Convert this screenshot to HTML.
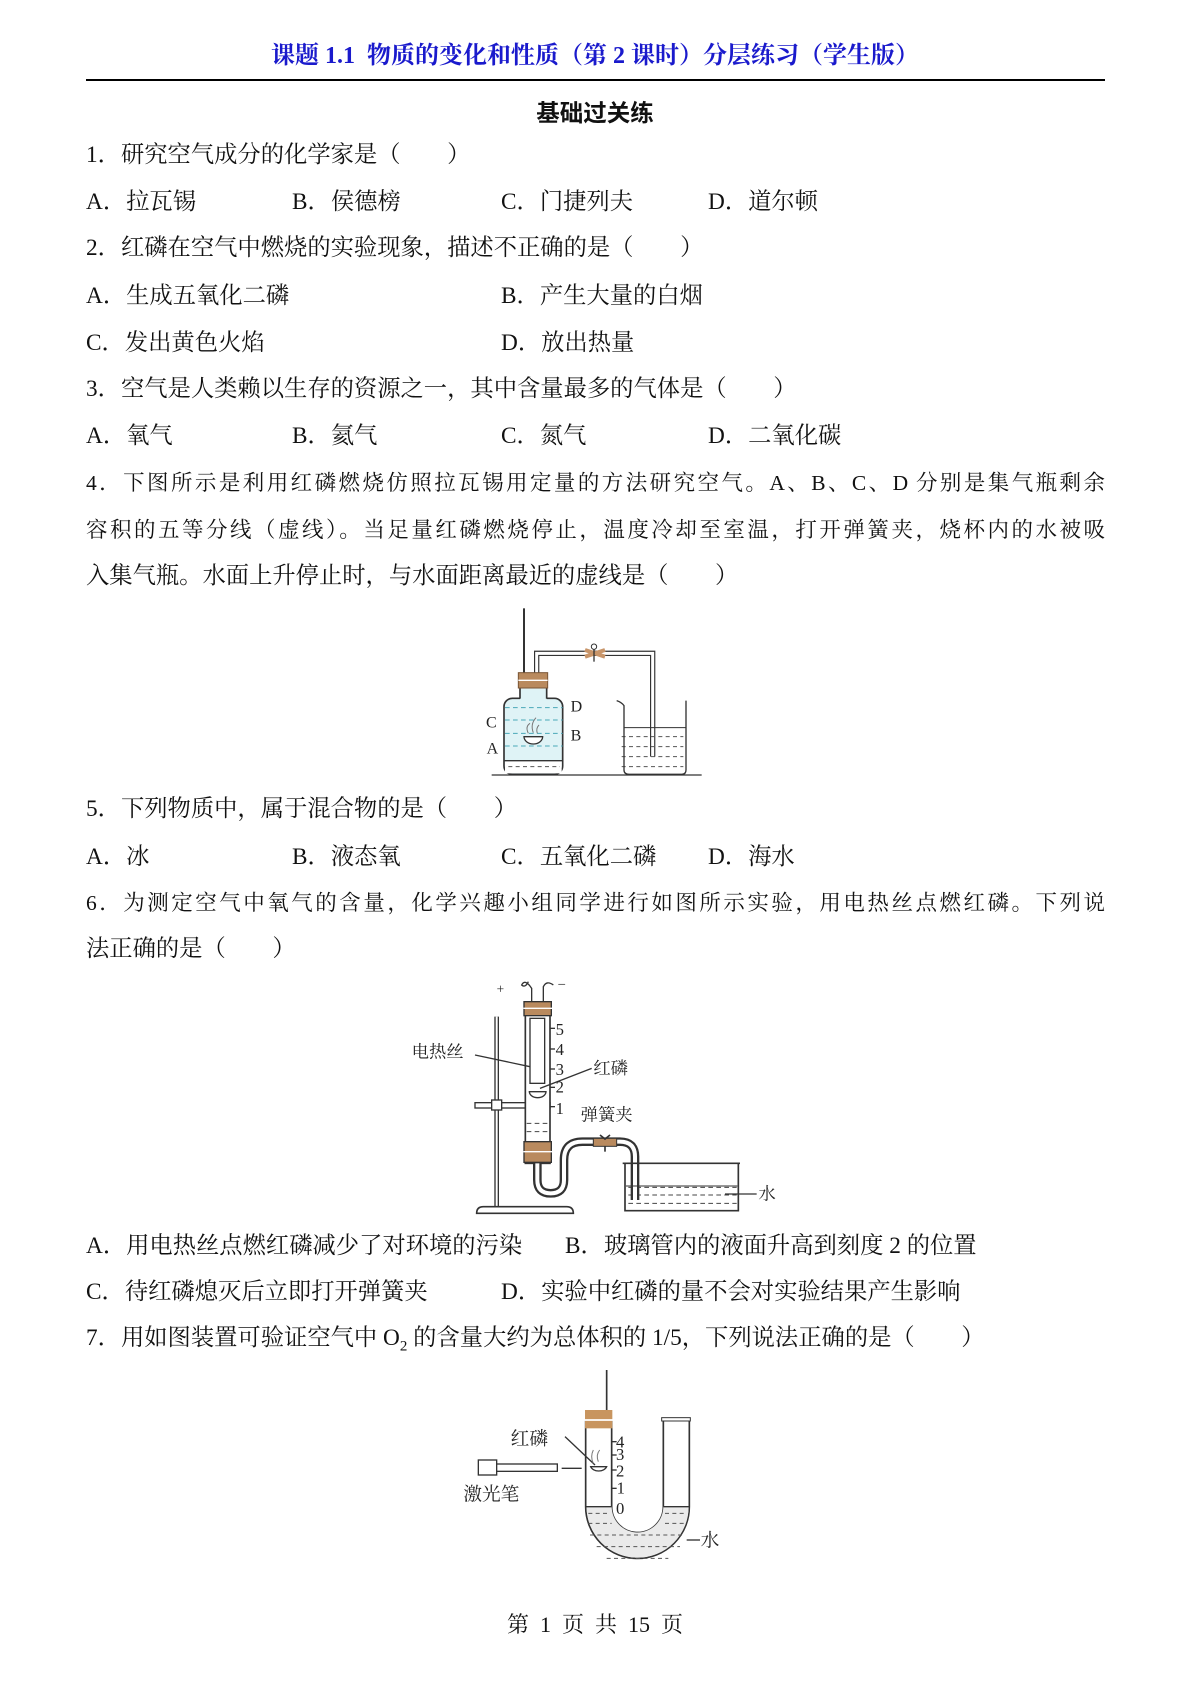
<!DOCTYPE html>
<html><head><meta charset="utf-8"><style>
body{margin:0;width:1190px;height:1682px;background:#fff;position:relative;font-family:"Liberation Serif","Noto Serif CJK SC",serif;color:#111;}
.t{position:absolute;left:86px;font-size:23.3px;line-height:26px;white-space:nowrap;}
.j{width:1019px;text-align:justify;text-align-last:justify;font-size:21.5px;}
.o{position:absolute;font-size:23.3px;line-height:26px;white-space:nowrap;}
svg{position:absolute;}
svg text{font-family:"Liberation Serif","Noto Serif CJK SC",serif;fill:#222;}
</style></head><body>
<div style="position:absolute;top:35px;left:0;width:1190px;text-align:center;font-family:'Liberation Serif','Noto Serif CJK SC',serif;font-weight:bold;color:#1a1acc;font-size:24px;">课题 1.1&nbsp; 物质的变化和性质（第 2 课时）分层练习（学生版）</div>
<div style="position:absolute;top:79px;left:86px;width:1019px;height:1.5px;background:#000;"></div>
<div style="position:absolute;top:94px;left:0;width:1190px;text-align:center;font-weight:bold;font-size:23.5px;font-family:'Liberation Sans','Noto Sans CJK SC',sans-serif;">基础过关练</div>

<div class="t" style="top:142px">1．研究空气成分的化学家是（　　）</div>
<div class="o" style="top:189px;left:86px">A．拉瓦锡</div><div class="o" style="top:189px;left:292px">B．侯德榜</div><div class="o" style="top:189px;left:501px">C．门捷列夫</div><div class="o" style="top:189px;left:708px">D．道尔顿</div>
<div class="t" style="top:235px">2．红磷在空气中燃烧的实验现象，描述不正确的是（　　）</div>
<div class="o" style="top:283px;left:86px">A．生成五氧化二磷</div><div class="o" style="top:283px;left:501px">B．产生大量的白烟</div>
<div class="o" style="top:330px;left:86px">C．发出黄色火焰</div><div class="o" style="top:330px;left:501px">D．放出热量</div>
<div class="t" style="top:376px">3．空气是人类赖以生存的资源之一，其中含量最多的气体是（　　）</div>
<div class="o" style="top:423px;left:86px">A．氧气</div><div class="o" style="top:423px;left:292px">B．氦气</div><div class="o" style="top:423px;left:501px">C．氮气</div><div class="o" style="top:423px;left:708px">D．二氧化碳</div>
<div class="t j" style="top:470px">4．下图所示是利用红磷燃烧仿照拉瓦锡用定量的方法研究空气。A、B、C、D 分别是集气瓶剩余</div>
<div class="t j" style="top:517px">容积的五等分线（虚线）。当足量红磷燃烧停止，温度冷却至室温，打开弹簧夹，烧杯内的水被吸</div>
<div class="t" style="top:563px">入集气瓶。水面上升停止时，与水面距离最近的虚线是（　　）</div>

<svg style="left:400px;top:600px" width="350" height="190" viewBox="0 0 1050 570">
<line x1="372" y1="25" x2="372" y2="380" stroke="#333" stroke-width="6"/>
<path d="M410 230 V160 H758 V470" fill="none" stroke="#333" stroke-width="16"/>
<path d="M410 230 V160 H758 V470" fill="none" stroke="#fff" stroke-width="9"/>
<path d="M555 150 L615 170 M555 170 L615 150" stroke="#c8956a" stroke-width="12"/>
<circle cx="582" cy="140" r="8" fill="none" stroke="#333" stroke-width="3"/>
<line x1="582" y1="148" x2="582" y2="185" stroke="#333" stroke-width="4"/>
<rect x="312" y="295" width="176" height="228" rx="25" fill="#dff3f6" stroke="#333" stroke-width="5"/>
<rect x="360" y="262" width="80" height="40" fill="#dff3f6"/>
<line x1="360" y1="262" x2="360" y2="296" stroke="#333" stroke-width="5"/><line x1="440" y1="262" x2="440" y2="296" stroke="#333" stroke-width="5"/>
<rect x="315" y="482" width="170" height="38" fill="#fff"/>
<line x1="312" y1="482" x2="488" y2="482" stroke="#333" stroke-width="4"/>
<g stroke="#555" stroke-width="3" stroke-dasharray="12 10"><line x1="325" y1="500" x2="480" y2="500"/><line x1="665" y1="410" x2="850" y2="410"/><line x1="665" y1="440" x2="850" y2="440"/><line x1="665" y1="470" x2="850" y2="470"/><line x1="665" y1="500" x2="850" y2="500"/></g>
<g stroke="#4aa8b8" stroke-width="3" stroke-dasharray="14 10"><line x1="315" y1="323" x2="488" y2="323"/><line x1="315" y1="360" x2="488" y2="360"/><line x1="315" y1="400" x2="488" y2="400"/><line x1="315" y1="438" x2="488" y2="438"/></g>
<rect x="355" y="218" width="88" height="46" fill="#b98a5e" stroke="#7a5535" stroke-width="3"/>
<line x1="355" y1="241" x2="443" y2="241" stroke="#fff" stroke-width="4"/>
<path d="M372 410 A28 22 0 0 0 428 410 Z" fill="#fff" stroke="#333" stroke-width="4"/>
<path d="M385 400 q-10 -20 5 -30 M400 398 q-10 -25 8 -45 M412 400 q-5 -15 5 -25" stroke="#777" stroke-width="3" fill="none"/>
<text x="512" y="335" font-size="48">D</text><text x="258" y="382" font-size="48">C</text><text x="512" y="422" font-size="48">B</text><text x="260" y="460" font-size="48">A</text>
<path d="M650 302 q15 5 22 15 V510 q0 13 15 13 H845 q13 0 13 -13 V302" fill="none" stroke="#333" stroke-width="4"/>
<line x1="672" y1="383" x2="858" y2="383" stroke="#333" stroke-width="3"/>
<line x1="275" y1="525" x2="905" y2="525" stroke="#333" stroke-width="4"/>
</svg>

<div class="t" style="top:796px">5．下列物质中，属于混合物的是（　　）</div>
<div class="o" style="top:844px;left:86px">A．冰</div><div class="o" style="top:844px;left:292px">B．液态氧</div><div class="o" style="top:844px;left:501px">C．五氧化二磷</div><div class="o" style="top:844px;left:708px">D．海水</div>
<div class="t j" style="top:890px">6．为测定空气中氧气的含量，化学兴趣小组同学进行如图所示实验，用电热丝点燃红磷。下列说</div>
<div class="t" style="top:936px">法正确的是（　　）</div>

<svg style="left:380px;top:970px" width="450" height="260" viewBox="0 0 1350 780">
<line x1="350" y1="140" x2="350" y2="710" stroke="#333" stroke-width="14"/><line x1="350" y1="140" x2="350" y2="710" stroke="#fff" stroke-width="6"/>
<path d="M290 730 q0 -20 20 -20 H560 q20 0 20 20 Z" fill="#fff" stroke="#333" stroke-width="5"/>
<rect x="285" y="398" width="225" height="16" fill="#fff" stroke="#333" stroke-width="4"/>
<rect x="335" y="390" width="30" height="30" fill="#fff" stroke="#333" stroke-width="4"/>
<rect x="436" y="110" width="74" height="470" fill="#fff" stroke="#333" stroke-width="5"/>
<rect x="450" y="145" width="44" height="195" fill="#fff" stroke="#333" stroke-width="4"/>
<rect x="440" y="458" width="66" height="60" fill="#fff"/>
<g stroke="#444" stroke-width="3" stroke-dasharray="14 10"><line x1="440" y1="460" x2="505" y2="460"/><line x1="440" y1="485" x2="505" y2="485"/><line x1="745" y1="652" x2="1070" y2="652"/><line x1="745" y1="675" x2="1070" y2="675"/><line x1="745" y1="700" x2="1070" y2="700"/></g>
<rect x="432" y="95" width="82" height="42" fill="#b98a5e" stroke="#333" stroke-width="4"/><line x1="430" y1="115" x2="516" y2="115" stroke="#fff" stroke-width="4"/>
<rect x="432" y="515" width="82" height="62" fill="#b98a5e" stroke="#333" stroke-width="4"/><line x1="430" y1="545" x2="516" y2="545" stroke="#fff" stroke-width="4"/>
<path d="M455 95 V55 q-20 -30 -30 -10 q10 10 20 -10 M490 95 V50 q10 -20 30 -5" stroke="#333" stroke-width="4" fill="none"/>
<text x="350" y="70" font-size="40">+</text><text x="535" y="52" font-size="40">–</text>
<path d="M448 365 A25 18 0 0 0 498 365 Z" fill="#fff" stroke="#333" stroke-width="4"/>
<g stroke="#333" stroke-width="4"><line x1="510" y1="175" x2="525" y2="175"/><line x1="510" y1="237" x2="525" y2="237"/><line x1="510" y1="297" x2="525" y2="297"/><line x1="510" y1="352" x2="525" y2="352"/><line x1="510" y1="410" x2="525" y2="410"/><line x1="285" y1="255" x2="450" y2="290"/><line x1="635" y1="295" x2="480" y2="355"/><line x1="1035" y1="672" x2="1130" y2="672"/></g>
<g font-size="50"><text x="527" y="195">5</text><text x="527" y="255">4</text><text x="527" y="315">3</text><text x="527" y="368">2</text><text x="527" y="432">1</text></g>
<g font-size="52"><text x="95" y="262">电热丝</text><text x="640" y="312">红磷</text><text x="602" y="452">弹簧夹</text><text x="1135" y="688">水</text></g>
<path d="M472 580 V630 q0 40 40 40 q40 0 40 -40 V570 q0 -55 55 -55 H720 q45 0 45 45 V690" fill="none" stroke="#333" stroke-width="26"/>
<path d="M472 580 V630 q0 40 40 40 q40 0 40 -40 V570 q0 -55 55 -55 H720 q45 0 45 45 V690" fill="none" stroke="#fff" stroke-width="12"/>
<rect x="640" y="505" width="70" height="24" fill="#b98a5e" stroke="#333" stroke-width="3"/>
<path d="M660 495 l15 12 l15 -12" stroke="#333" stroke-width="5" fill="none"/><line x1="675" y1="529" x2="675" y2="545" stroke="#333" stroke-width="5"/>
<path d="M735 580 V722 H1075 V580" fill="none" stroke="#333" stroke-width="5"/><line x1="728" y1="580" x2="1080" y2="580" stroke="#333" stroke-width="5"/>
<line x1="738" y1="648" x2="1072" y2="648" stroke="#333" stroke-width="3"/>
</svg>

<div class="o" style="top:1233px;left:86px">A．用电热丝点燃红磷减少了对环境的污染</div><div class="o" style="top:1233px;left:565px">B．玻璃管内的液面升高到刻度 2 的位置</div>
<div class="o" style="top:1279px;left:86px">C．待红磷熄灭后立即打开弹簧夹</div><div class="o" style="top:1279px;left:501px">D．实验中红磷的量不会对实验结果产生影响</div>
<div class="t" style="top:1325px">7．用如图装置可验证空气中 O<sub style="font-size:15px">2</sub> 的含量大约为总体积的 1/5，下列说法正确的是（　　）</div>

<svg style="left:420px;top:1370px" width="330" height="220" viewBox="0 0 990 660">
<line x1="560" y1="0" x2="560" y2="125" stroke="#333" stroke-width="5"/>
<path d="M575 150 V410 A77 77 0 0 0 730 410 V148 H808 V410 A155 155 0 0 1 497 410 V150" fill="#fff" stroke="#333" stroke-width="5"/>
<path d="M500 410 H575 A77 77 0 0 0 730 410 H806 A153 153 0 0 1 500 410 Z" fill="#eaeaea"/>
<g stroke="#555" stroke-width="3" stroke-dasharray="12 10"><line x1="505" y1="430" x2="570" y2="430"/><line x1="735" y1="430" x2="800" y2="430"/><line x1="505" y1="460" x2="575" y2="460"/><line x1="735" y1="460" x2="800" y2="460"/><line x1="510" y1="495" x2="795" y2="495" /><line x1="530" y1="530" x2="780" y2="530"/><line x1="560" y1="565" x2="745" y2="565"/></g>
<line x1="497" y1="410" x2="575" y2="410" stroke="#333" stroke-width="4"/><line x1="730" y1="410" x2="808" y2="410" stroke="#333" stroke-width="4"/>
<rect x="495" y="120" width="82" height="55" fill="#c8955f"/><line x1="493" y1="150" x2="580" y2="150" stroke="#fff" stroke-width="5"/>
<rect x="725" y="143" width="86" height="10" fill="#fff" stroke="#333" stroke-width="3"/>
<g stroke="#333" stroke-width="4"><line x1="575" y1="215" x2="590" y2="215"/><line x1="575" y1="255" x2="590" y2="255"/><line x1="575" y1="300" x2="590" y2="300"/><line x1="575" y1="355" x2="590" y2="355"/><line x1="435" y1="200" x2="525" y2="285"/><line x1="425" y1="295" x2="485" y2="295"/><line x1="800" y1="510" x2="840" y2="510"/></g>
<g font-size="50"><text x="588" y="232">4</text><text x="588" y="270">3</text><text x="588" y="320">2</text><text x="590" y="370">1</text><text x="588" y="432">0</text></g>
<path d="M512 290 A25 18 0 0 0 560 290 Z" fill="#fff" stroke="#333" stroke-width="4"/>
<path d="M520 280 q-10 -20 0 -40 M535 275 q-8 -20 4 -35" stroke="#777" stroke-width="3" fill="none"/>
<rect x="175" y="270" width="55" height="45" fill="#fff" stroke="#333" stroke-width="4"/>
<rect x="230" y="282" width="182" height="22" fill="#fff" stroke="#333" stroke-width="4"/>
<g font-size="56"><text x="272" y="225">红磷</text><text x="130" y="392">激光笔</text><text x="842" y="530">水</text></g>
</svg>

<div style="position:absolute;top:1608px;left:0;width:1190px;text-align:center;font-size:22px;">第&nbsp; 1&nbsp; 页&nbsp; 共&nbsp; 15&nbsp; 页</div>
</body></html>
